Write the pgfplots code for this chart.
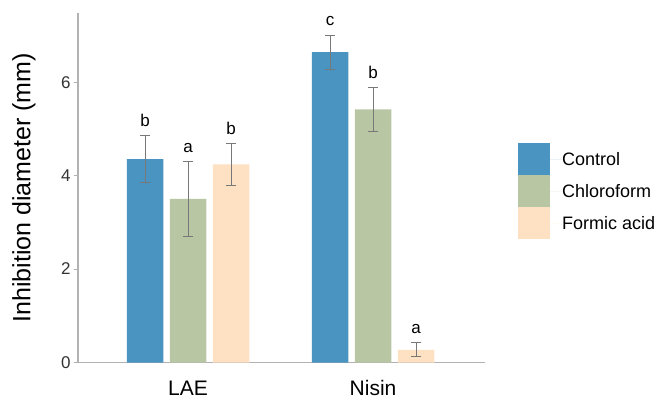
\documentclass[border=0pt]{standalone}
\usepackage{fontspec}
\setmainfont{Liberation Sans}
\usepackage{pgfplots}
\pgfplotsset{compat=1.18}
\definecolor{ctrl}{RGB}{74,148,194}
\definecolor{chl}{RGB}{184,198,163}
\definecolor{frm}{RGB}{254,224,194}
\definecolor{axgray}{RGB}{178,178,178}
\definecolor{errgray}{RGB}{120,120,120}
\begin{document}
\begin{tikzpicture}
\path[use as bounding box] (-78bp,-36.5bp) rectangle (577bp,362.5bp);
\begin{axis}[
  scale only axis, width=407bp, height=349.5bp,
  anchor=south west, at={(0,0)},
  ybar, bar width=0.197,
  xmin=-0.595, xmax=1.605, ymin=0, ymax=7.48,
  axis x line*=bottom, axis y line*=left,
  axis line style={axgray, line width=1.3bp},
  xtick={0,1}, xticklabels={LAE,Nisin},
  ytick={0,2,4,6},
  x tick style={draw=none},
  y tick style={axgray, line width=1bp},
  tick align=outside, major tick length=4bp,
  /pgf/number format/assume math mode=true,
  yticklabel style={font=\fontsize{17bp}{20bp}\selectfont, text=black!80},
  xticklabel style={font=\fontsize{21bp}{24bp}\selectfont, anchor=base, yshift=-29bp},
  ylabel={Inhibition diameter (mm)},
  ylabel style={font=\fontsize{25bp}{28bp}\selectfont, at={(axis description cs:-0.133,0.5)}, anchor=center},
  legend style={draw=none, fill=none, at={(1.081,0.628)}, anchor=north west,
    inner sep=0pt, row sep=0pt, nodes={inner sep=0pt},
    font=\fontsize{18bp}{21bp}\selectfont},
  legend cell align=left,
  error bars/y dir=both, error bars/y explicit,
  error bars/error bar style={draw=errgray, line width=0.8bp},
  error bars/error mark options={draw=errgray, line width=0.8bp, mark size=5bp, rotate=90},
]
\addplot[fill=ctrl, draw=none, bar shift=-0.2324,
  legend image code/.code={\fill[ctrl] (0bp,-15.5bp) rectangle (32bp,16.5bp); \path (0bp,0bp) -- (44bp,0bp);}]
  coordinates {(0,4.35) +- (0,0.50) (1,6.64) +- (0,0.37)};
\addplot[fill=chl, draw=none, bar shift=0,
  legend image code/.code={\fill[chl] (0bp,-15.5bp) rectangle (32bp,16.5bp); \path (0bp,0bp) -- (44bp,0bp);}]
  coordinates {(0,3.50) +- (0,0.80) (1,5.42) +- (0,0.47)};
\addplot[fill=frm, draw=none, bar shift=0.2324,
  legend image code/.code={\fill[frm] (0bp,-15.5bp) rectangle (32bp,16.5bp); \path (0bp,0bp) -- (44bp,0bp);}]
  coordinates {(0,4.24) +- (0,0.44) (1,0.27) +- (0,0.15)};
\legend{Control,Chloroform,Formic acid}
\begin{scope}[every node/.style={font=\fontsize{17bp}{20bp}\selectfont, anchor=base, yshift=9bp, inner sep=0pt}]
\node at (axis cs:-0.2324,4.85) {b};
\node at (axis cs:0,4.30) {a};
\node at (axis cs:0.2324,4.68) {b};
\node at (axis cs:0.7676,7.01) {c};
\node at (axis cs:1,5.89) {b};
\node at (axis cs:1.2324,0.42) {a};
\end{scope}
\end{axis}
\end{tikzpicture}
\end{document}
